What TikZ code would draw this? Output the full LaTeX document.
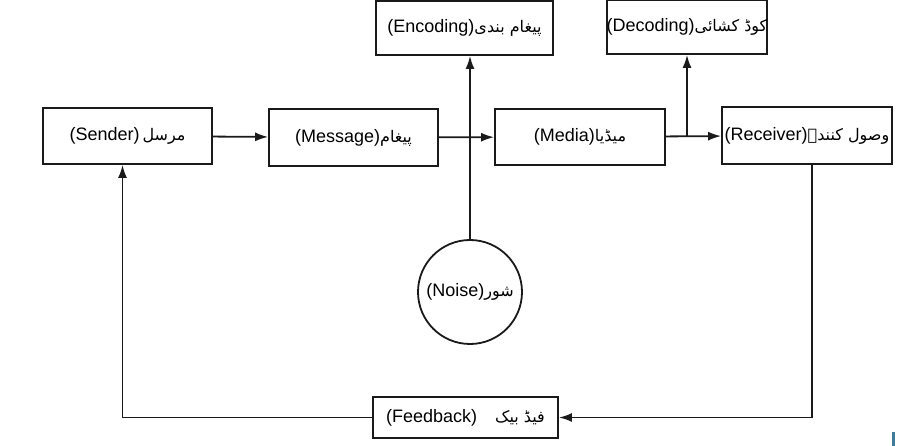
\documentclass[tikz,border=0pt]{standalone}
\usepackage{fontspec}
\setmainfont{Liberation Sans}
\newfontfamily\urdufont[Script=Arabic]{DejaVu Sans}
\TeXXeTstate=1
\usetikzlibrary{arrows.meta,positioning}
\definecolor{pline}{HTML}{1A1A1A}
\definecolor{pmark}{HTML}{3F7A9A}
\newcommand{\ur}[1]{{\urdufont\fontsize{16}{18}\selectfont\beginR #1\endR}}
\begin{document}
\begin{tikzpicture}[x=1pt,y=-1pt,
    line width=1.8pt,draw=pline,
    box/.style={draw,rectangle,inner sep=0pt,font=\fontsize{18}{20}\selectfont},
    arr/.style={-{Latex[length=13pt,width=9pt]}}]
  \useasboundingbox (0,0) rectangle (902,446);
  % main chain
  \node[box,minimum width=169pt,minimum height=56pt] (sender) at (127.5,136) {(Sender)\,\ur{مرسل}};
  \node[box,minimum width=169pt,minimum height=57pt] (message) at (353.5,137.5) {(Message)\ur{پیغام}};
  \node[box,minimum width=170pt,minimum height=56pt] (media) at (580,137) {(Media)\ur{میڈیا}};
  \node[box,minimum width=170pt,minimum height=57pt] (receiver) at (807,135.5) {(Receiver)\ur{وصول کنندہ}};
  % top boxes
  \node[box,minimum width=177pt,minimum height=54pt] (encoding) at (464.5,28) {(Encoding)\ur{پیغام بندی}};
  \node[box,minimum width=108pt,minimum height=54pt] (decoding) at (687,27) {(Decoding)\ur{کوڈ کشائی}};
  % noise and feedback
  \node[box,circle,minimum size=104pt] (noise) at (470,292) {(Noise)\ur{شور}};
  \node[box,minimum width=185pt,minimum height=41pt] (feedback) at (465.5,417.5) {(Feedback)\quad\ur{فیڈ بیک}};
  \draw[arr] (sender) -- (message);
  \draw[arr] (message) -- (media);
  \draw[arr] (media) -- (receiver);
  \draw[arr] (noise.north) -- (noise.north |- encoding.south);
  \coordinate (split) at (decoding.south |- media.east);
  \draw[arr] (split) -- (decoding.south);
  \draw[arr] ([xshift=5pt]receiver.south) |- (feedback.east);
  \draw[arr] (feedback.west) -| ([xshift=-5pt]sender.south);
  \draw[pmark,line width=3pt] (893,432) -- (893,446);
\end{tikzpicture}
\end{document}
